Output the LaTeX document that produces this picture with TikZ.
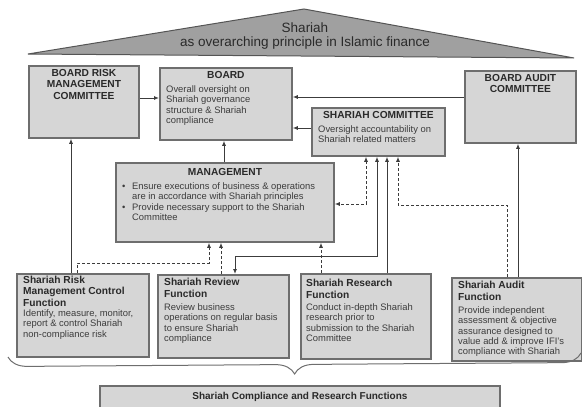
\documentclass[tikz,border=0pt]{standalone}
\usepackage{fontspec}
\setmainfont{Liberation Sans}
\usetikzlibrary{positioning, arrows.meta, decorations.pathreplacing}

\definecolor{boxgray}{HTML}{D6D6D6}
\definecolor{edgegray}{HTML}{6E6E6E}
\definecolor{roofgray}{HTML}{A0A0A0}
\definecolor{roofedge}{HTML}{555555}
\definecolor{ink}{HTML}{2A2A2A}
\definecolor{softink}{HTML}{3C3C3C}
\definecolor{wire}{HTML}{3C3C3C}

\begin{document}
\begin{tikzpicture}[x=1pt, y=-1pt, >={Latex[length=5pt,width=4pt]},
    unit/.style = {draw=edgegray, fill=boxgray, line width=1.8pt, anchor=north west, inner sep=0pt},
    head/.style = {font=\fontsize{10.2}{11.5}\selectfont\bfseries, text=ink, inner sep=0pt, align=center},
    lhead/.style = {head, align=left},
    body/.style = {font=\fontsize{9.4}{10.3}\selectfont, text=softink, inner sep=0pt, align=left},
    link/.style = {draw=wire, line width=0.9pt},
    dashlink/.style = {link, dash pattern=on 3pt off 2pt}]
    \useasboundingbox (0,0) rectangle (582,407);
    \clip (0,0) rectangle (582,407);
    % roof
    \filldraw[fill=roofgray, draw=roofedge, line width=1pt] (28,54) -- (304,9) -- (574,58) -- cycle;
    \node[font=\fontsize{13.5}{14.3}\selectfont, text=ink, align=center] (roof) at (305,36) {Shariah\\as overarching principle in Islamic finance};
    % boxes
    \node[unit, minimum width=110pt, minimum height=72pt] (brmc) at (28,65) {};
    \node[unit, minimum width=132pt, minimum height=72pt] (board) at (159,67) {};
    \node[unit, minimum width=133pt, minimum height=48pt] (sc) at (311,107) {};
    \node[unit, minimum width=111pt, minimum height=72pt] (bac) at (464,70) {};
    \node[unit, minimum width=218pt, minimum height=79pt] (mgmt) at (115,162) {};
    \node[unit, minimum width=132pt, minimum height=83pt] (risk) at (16,273) {};
    \node[unit, minimum width=131pt, minimum height=83pt] (review) at (157,274) {};
    \node[unit, minimum width=130pt, minimum height=85pt] (research) at (300,273) {};
    \node[unit, minimum width=130pt, minimum height=83pt] (audit) at (451,277) {};
    \node[unit, minimum width=400pt, minimum height=28pt] (scrf) at (99,385) {};
    % texts
    \node[head, below=4pt of brmc.north] (brmc-h) {BOARD RISK\\MANAGEMENT\\COMMITTEE};
    \node[head, below=4pt of board.north] (board-h) {BOARD};
    \node[body, below right=18.5pt and 7pt of board.north west] (board-b) {Overall oversight on\\Shariah governance\\structure \& Shariah\\compliance};
    \node[head, below=4.3pt of sc.north] (sc-h) {SHARIAH COMMITTEE};
    \node[body, below right=18.6pt and 7pt of sc.north west] (sc-b) {Oversight accountability on\\Shariah related matters};
    \node[head, below=4pt of bac.north] (bac-h) {BOARD AUDIT\\COMMITTEE};
    \node[head, below=6pt of mgmt.north] (mgmt-h) {MANAGEMENT};
    \node[body, below right=20.6pt and 7pt of mgmt.north west] (mgmt-b) {\makebox[10pt][l]{\textbullet}Ensure executions of business \& operations\\
        \hspace*{10pt}are in accordance with Shariah principles\\
        \makebox[10pt][l]{\textbullet}Provide necessary support to the Shariah\\
        \hspace*{10pt}Committee};
    \node[lhead, below right=2.5pt and 7pt of risk.north west] (risk-h) {Shariah Risk\\Management Control\\Function};
    \node[body, below right=36.6pt and 7pt of risk.north west] (risk-b) {Identify, measure, monitor,\\report \& control Shariah\\non-compliance risk};
    \node[lhead, below right=4.3pt and 7pt of review.north west] (review-h) {Shariah Review\\Function};
    \node[body, below right=29.6pt and 7pt of review.north west] (review-b) {Review business\\operations on regular basis\\to ensure Shariah\\compliance};
    \node[lhead, below right=6.3pt and 6pt of research.north west] (research-h) {Shariah Research\\Function};
    \node[body, below right=30.6pt and 6pt of research.north west] (research-b) {Conduct in-depth Shariah\\research prior to\\submission to the Shariah\\Committee};
    \node[lhead, below right=4.3pt and 7pt of audit.north west] (audit-h) {Shariah Audit\\Function};
    \node[body, below right=29.6pt and 7pt of audit.north west] (audit-b) {Provide independent\\assessment \& objective\\assurance designed to\\value add \& improve IFI's\\compliance with Shariah};
    \node[head, font=\fontsize{10}{11}\selectfont\bfseries, below=7.4pt of scrf.north] (scrf-h) {Shariah Compliance and Research Functions};
    % solid links
    \draw[link, ->] (brmc.east |- 0,98) -- (board.west |- 0,98);
    \draw[link, ->] (bac.west |- 0,97) -- (board.east |- 0,97);
    \draw[link, ->] (sc.west |- 0,128) -- (board.east |- 0,128);
    \draw[link, ->] (mgmt.north -| 224,0) -- (board.south -| 224,0);
    \draw[link, ->] (risk.north -| 71,0) -- (brmc.south -| 71,0);
    \draw[link, ->] (audit.north -| 518,0) -- (bac.south -| 518,0);
    \draw[link, ->] (research.north -| 387,0) -- (sc.south -| 387,0);
    \draw[link, <->] (sc.south -| 377,0) |- (235,256) -- (review.north -| 235,0);
    % dashed links
    \draw[dashlink, <->] (sc.south -| 366,0) |- (mgmt.east |- 0,204);
    \draw[dashlink, ->] (audit.north -| 507,0) |- (398,205) -- (sc.south -| 398,0);
    \draw[dashlink, ->] (risk.north -| 77,0) |- (209,263) -- (mgmt.south -| 209,0);
    \draw[dashlink, ->] (review.north -| 221,0) -- (mgmt.south -| 221,0);
    \draw[dashlink, ->] (research.north -| 321,0) -- (mgmt.south -| 321,0);
    % brace
    \coordinate (brace-l) at (8,357);
    \coordinate (brace-r) at (581,353);
    \draw[draw=edgegray, line width=1pt, decorate, decoration={brace, mirror, amplitude=19pt, aspect=0.5}] (brace-l) -- (brace-r);
\end{tikzpicture}
\end{document}
